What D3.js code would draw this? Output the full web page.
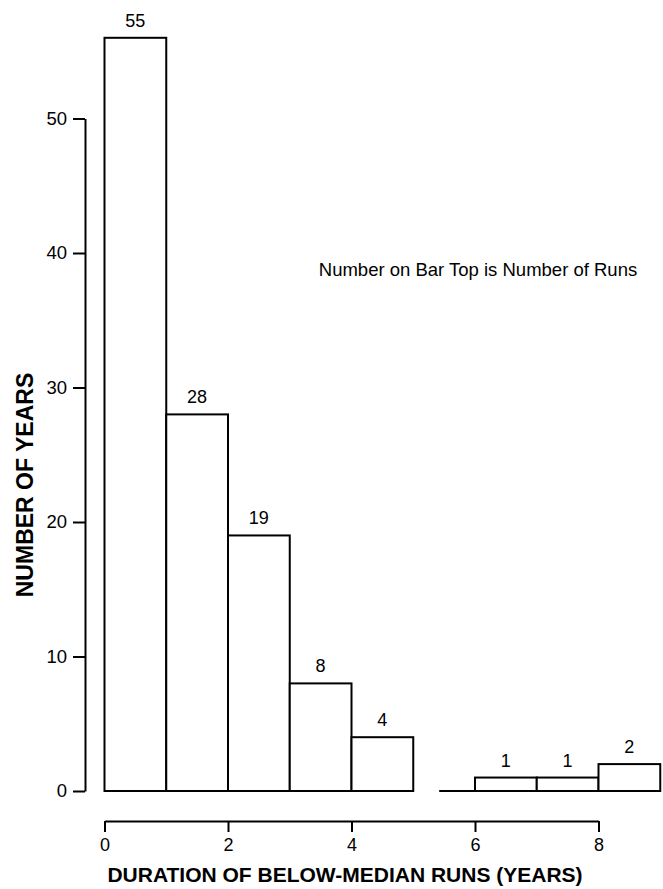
<!DOCTYPE html>
<html>
<head>
<meta charset="utf-8">
<script src="https://cdn.jsdelivr.net/npm/d3@7"></script>
<style>
  html, body { margin: 0; padding: 0; background: #fff; }
  svg { display: block; font-family: "Liberation Sans", Arial, Helvetica, sans-serif; }
</style>
</head>
<body>
<svg id="chart" width="663" height="889"></svg>
<script>
// Data
const binStarts = [0, 1, 2, 3, 4, 5, 6, 7, 8];
const yearsValues = [56, 28, 19, 8, 4, 0, 1, 1, 2];
const runsLabels = ["55", "28", "19", "8", "4", "", "1", "1", "2"];
const yTicks = [0, 10, 20, 30, 40, 50];
const xTicks = [0, 2, 4, 6, 8];
const xTitle = "DURATION OF BELOW-MEDIAN RUNS (YEARS)";
const yTitle = "NUMBER OF YEARS";
const note = "Number on Bar Top is Number of Runs";

const svg = d3.select("#chart");
const x = d3.scaleLinear().domain([0, 8]).range([104.5, 598.5]);
const y = d3.scaleLinear().domain([0, 50]).range([791, 118.5]);

// Bars
svg.append("g").selectAll("rect")
  .data(binStarts.filter((d, i) => yearsValues[i] > 0))
  .join("rect")
  .attr("x", (d) => x(d))
  .attr("width", (d) => x(d + 1) - x(d))
  .attr("y", (d) => y(yearsValues[binStarts.indexOf(d)]))
  .attr("height", (d) => y(0) - y(yearsValues[binStarts.indexOf(d)]))
  .attr("fill", "#fff")
  .attr("stroke", "#000")
  .attr("stroke-width", 2);

// Zero-height bins drawn as a flat line on the baseline
svg.append("g").selectAll("line")
  .data(binStarts.filter((d, i) => yearsValues[i] === 0))
  .join("line")
  .attr("x1", (d) => x(d + 0.42))
  .attr("x2", (d) => x(d + 1))
  .attr("y1", y(0))
  .attr("y2", y(0))
  .attr("stroke", "#000")
  .attr("stroke-width", 2);

// Bar top labels
svg.append("g").selectAll("text")
  .data(binStarts)
  .join("text")
  .attr("x", (d) => (x(d) + x(d + 1)) / 2)
  .attr("y", (d, i) => y(yearsValues[i]) - 11)
  .attr("text-anchor", "middle")
  .attr("font-size", 18)
  .attr("fill", "#000")
  .text((d, i) => runsLabels[i]);

// Y axis (offset to the left of the bars)
const yAxis = d3.axisLeft(y).tickValues(yTicks).tickSize(12).tickPadding(6).tickSizeOuter(0);
const gy = svg.append("g").attr("transform", "translate(85,0)").call(yAxis);
gy.select(".domain").attr("stroke-width", 2);
gy.selectAll(".tick line").attr("stroke-width", 2);
gy.selectAll(".tick text").attr("font-size", 18.5).attr("font-family", "Liberation Sans, Arial, sans-serif").attr("fill", "#000");

// X axis (offset below the bars)
const xAxis = d3.axisBottom(x).tickValues(xTicks).tickSize(11).tickPadding(6).tickSizeOuter(0);
const gx = svg.append("g").attr("transform", "translate(0,821)").call(xAxis);
gx.select(".domain").attr("stroke-width", 2);
gx.selectAll(".tick line").attr("stroke-width", 2);
gx.selectAll(".tick text").attr("font-size", 18).attr("font-family", "Liberation Sans, Arial, sans-serif").attr("fill", "#000");

// Axis titles
svg.append("text")
  .attr("x", 345)
  .attr("y", 882)
  .attr("text-anchor", "middle")
  .attr("font-size", 21)
  .attr("font-weight", "bold")
  .text(xTitle);

svg.append("text")
  .attr("transform", "translate(33,485) rotate(-90)")
  .attr("text-anchor", "middle")
  .attr("font-size", 23)
  .attr("font-weight", "bold")
  .text(yTitle);

// Annotation
svg.append("text")
  .attr("x", 478)
  .attr("y", 276)
  .attr("text-anchor", "middle")
  .attr("font-size", 18.5)
  .text(note);
</script>
</body>
</html>
